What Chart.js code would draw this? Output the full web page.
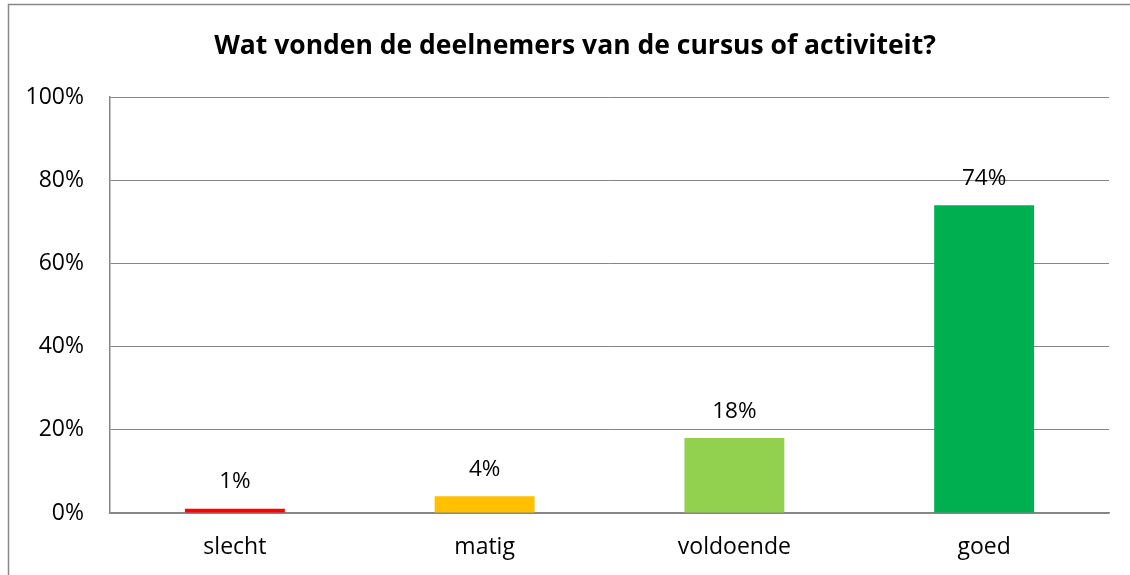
<!DOCTYPE html>
<html>
<head>
<meta charset="utf-8">
<script src="https://cdn.jsdelivr.net/npm/chart.js"></script>
<style>
  html, body { margin: 0; padding: 0; background: #fff; }
  #wrap { width: 1130px; height: 575px; position: relative; }
</style>
</head>
<body>
<div id="wrap"><canvas id="chart"></canvas></div>
<script>
const categories = ['slecht', 'matig', 'voldoende', 'goed'];
const percentages = [1, 4, 18, 74];
const barColors = ['#FF0000', '#FFC000', '#92D050', '#00B050'];
const yTicks = [0, 20, 40, 60, 80, 100];
const chartTitle = 'Wat vonden de deelnemers van de cursus of activiteit?';

const fontFamily = '"Open Sans", "Noto Sans", sans-serif';

// frame around the whole chart + title + value labels on top of bars
const decorations = {
  id: 'decorations',
  beforeDraw(chart) {
    const ctx = chart.ctx;
    ctx.save();
    ctx.strokeStyle = '#888888';
    ctx.lineWidth = 1.5;
    ctx.beginPath();
    ctx.moveTo(8.5, 600);
    ctx.lineTo(8.5, 4.5);
    ctx.lineTo(1200, 4.5);
    ctx.stroke();
    ctx.restore();
  },
  afterDatasetsDraw(chart) {
    const ctx = chart.ctx;
    ctx.save();
    ctx.fillStyle = '#000';
    ctx.textAlign = 'center';
    ctx.textBaseline = 'alphabetic';
    ctx.font = 'bold 26.5px ' + fontFamily;
    ctx.fillText(chartTitle, 575, 54);

    ctx.textBaseline = 'middle';
    ctx.font = '22.5px ' + fontFamily;
    const meta = chart.getDatasetMeta(0);
    meta.data.forEach((bar, i) => {
      ctx.fillText(percentages[i] + '%', bar.x, bar.y - 27);
    });
    ctx.restore();
  }
};

new Chart(document.getElementById('chart'), {
  type: 'bar',
  data: {
    labels: categories,
    datasets: [{
      data: percentages,
      backgroundColor: barColors,
      borderWidth: 0,
      barPercentage: 0.4,
      categoryPercentage: 1
    }]
  },
  options: {
    responsive: true,
    maintainAspectRatio: false,
    animation: false,
    layout: { padding: { top: 97, right: 21, left: 0, bottom: 0 } },
    plugins: {
      legend: { display: false },
      tooltip: { enabled: false },
      title: { display: false }
    },
    scales: {
      x: {
        afterFit(scale) { scale.height = 62; },
        grid: { display: false, drawTicks: false },
        border: { color: '#868686', width: 1.5 },
        ticks: {
          color: '#000',
          padding: 21,
          font: { family: fontFamily, size: 23 }
        }
      },
      y: {
        min: 0,
        max: 100,
        afterFit(scale) { scale.width = 110; },
        afterBuildTicks(scale) { scale.ticks = yTicks.map(v => ({ value: v })); },
        grid: { color: '#868686', lineWidth: 1, drawTicks: false },
        border: { color: '#868686', width: 1.5 },
        ticks: {
          color: '#000',
          padding: 26,
          font: { family: fontFamily, size: 23 },
          callback: v => v + '%'
        }
      }
    }
  },
  plugins: [decorations]
});
</script>
</body>
</html>
